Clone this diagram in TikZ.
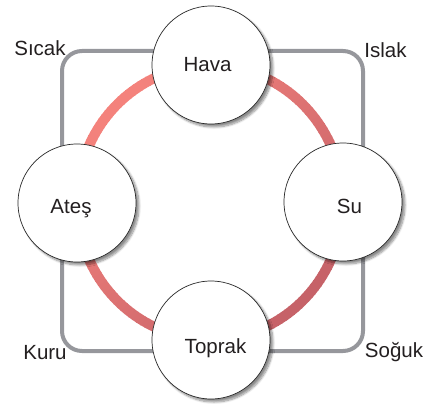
\documentclass[tikz,border=0pt]{standalone}
\usepackage{fontspec}
\setmainfont{Liberation Sans}
\usetikzlibrary{shadows.blur}
\definecolor{ringA}{RGB}{244,130,124}
\definecolor{ringB}{RGB}{198,98,104}
\definecolor{framegray}{RGB}{150,151,156}
\definecolor{ink}{RGB}{35,31,32}
\begin{document}
\begin{tikzpicture}[x=1pt,y=-1pt,
  element/.style={circle, draw=black!85, line width=0.7pt, fill=white,
    minimum size=118pt, inner sep=0pt,
    blur shadow={shadow xshift=3pt, shadow yshift=-3pt, shadow blur steps=8, shadow opacity=45}},
  word/.style={anchor=base, text=ink, font=\fontsize{20.5}{24}\selectfont, inner sep=0pt},
  framepath/.style={draw=framegray, line width=4pt, rounded corners=20pt},
  ringseg/.style={line width=10pt}]
\useasboundingbox (0,0) rectangle (434,404);
% gray frame
\draw[framepath] (62,51) rectangle (363,351);
% red ring with gradient
\foreach \a in {0,2,...,358}{
  \pgfmathsetmacro\t{50*(1+(cos(\a)+sin(\a))/sqrt(2))}
  \colorlet{segc}{ringB!\t!ringA}
  \draw[ringseg, segc] ({210+133*cos(\a)},{202.5+137*sin(\a)}) -- ({210+133*cos(\a+2.4)},{202.5+137*sin(\a+2.4)});
}
% elements
\node[element] (hava) at (211,65) {};
\node[element] (ates) at (77,203) {};
\node[element] (su) at (343,202) {};
\node[element] (toprak) at (211,340) {};
\node[word] (thava) at (207.5,71) {Hava};
\node[word] (tates) at (71,213) {Ateş};
\node[word] (tsu) at (349.5,213) {Su};
\node[word] (ttoprak) at (215.5,353) {Toprak};
% qualities
\node[word] (sicak) at (40,56) {Sıcak};
\node[word] (islak) at (385.5,58) {Islak};
\node[word] (kuru) at (45,359) {Kuru};
\node[word] (soguk) at (394,357) {Soğuk};
\end{tikzpicture}
\end{document}
